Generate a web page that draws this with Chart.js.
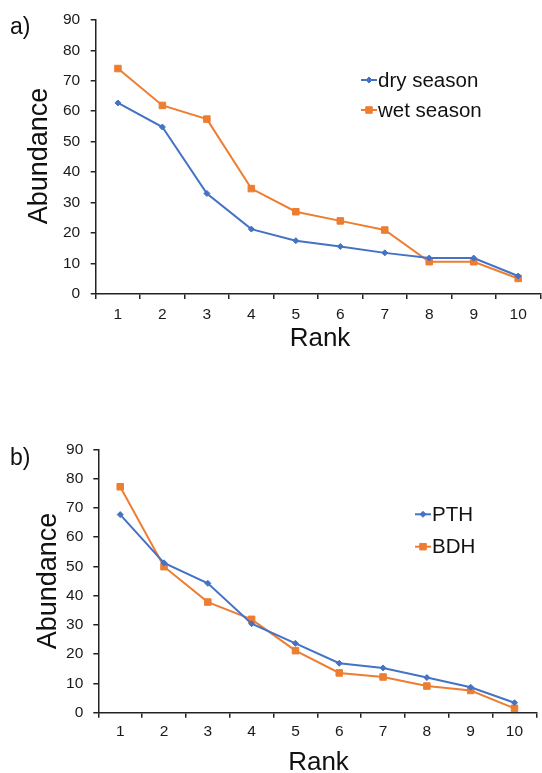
<!DOCTYPE html>
<html>
<head>
<meta charset="utf-8">
<script src="https://cdn.jsdelivr.net/npm/chart.js@4.4.1/dist/chart.umd.min.js"></script>
<style>
  html, body { margin:0; padding:0; background:#fff; }
  body { width:542px; height:773px; overflow:hidden; position:relative; font-family:"Liberation Sans", Arial, sans-serif; }
  .wrap { position:absolute; left:0; overflow:hidden; }
  .lbl { position:absolute; color:#111; line-height:1; white-space:nowrap; }
  .ctr { transform:translate(-50%,-50%); }
  .rot { transform:translate(-50%,-50%) rotate(-90deg); }
</style>
</head>
<body>
<div class="wrap" style="top:0;width:542px;height:360px;"><canvas id="ca" width="546" height="360"></canvas></div>
<div class="wrap" style="top:380px;width:542px;height:393px;"><canvas id="cb" width="542" height="393"></canvas></div>

<div class="lbl" style="left:10px;top:15px;font-size:23px;">a)</div>
<div class="lbl rot" style="left:38px;top:156px;font-size:27px;">Abundance</div>
<div class="lbl ctr" style="left:320px;top:337px;font-size:26px;">Rank</div>

<div class="lbl" style="left:10px;top:446px;font-size:23px;">b)</div>
<div class="lbl rot" style="left:46.5px;top:581px;font-size:27px;">Abundance</div>
<div class="lbl ctr" style="left:318.5px;top:761px;font-size:26px;">Rank</div>

<script>
// ---- data ----
const ranks = ['1','2','3','4','5','6','7','8','9','10'];
const drySeason = [62.7, 54.8, 33.0, 21.3, 17.5, 15.6, 13.5, 11.8, 11.8, 5.9];
const wetSeason = [74.0, 61.9, 57.4, 34.6, 27.0, 24.0, 21.0, 10.6, 10.6, 5.1];
const pth = [67.7, 51.2, 44.2, 30.4, 23.7, 16.9, 15.3, 12.0, 8.7, 3.4];
const bdh = [77.2, 49.9, 37.8, 31.9, 21.2, 13.6, 12.2, 9.1, 7.6, 1.5];
const yMin = 0, yMax = 90, yStep = 10;

const BLUE = '#4472C4', ORANGE = '#ED7D31';
const FONT = '"Liberation Sans", Arial, sans-serif';

// legend drawn inside the plot area
const insideLegend = {
  id: 'insideLegend',
  afterDatasetsDraw(chart, args, opts) {
    const ctx = chart.ctx;
    ctx.save();
    chart.data.datasets.forEach((ds, i) => {
      const y = opts.y[i];
      ctx.strokeStyle = ds.borderColor;
      ctx.fillStyle = ds.borderColor;
      ctx.lineWidth = 2;
      ctx.beginPath();
      ctx.moveTo(opts.x0, y);
      ctx.lineTo(opts.x1, y);
      ctx.stroke();
      ctx.lineWidth = 1;
      Chart.helpers.drawPoint(ctx, {
        pointStyle: ds.pointStyle, radius: ds.pointRadius, borderWidth: 1
      }, (opts.x0 + opts.x1) / 2, y);
      ctx.fillStyle = '#111';
      ctx.font = opts.fontSize + 'px ' + FONT;
      ctx.textBaseline = 'middle';
      ctx.textAlign = 'left';
      ctx.fillText(ds.label, opts.x1 + 1, y + 1);
    });
    ctx.restore();
  }
};

function makeChart(id, labels, sets, geo) {
  const datasets = sets.map(s => ({
    label: s.label, data: s.data, borderColor: s.color, backgroundColor: s.color,
    pointBackgroundColor: s.color, pointBorderColor: s.color,
    borderWidth: 2, pointStyle: s.style, pointRadius: s.radius, pointHoverRadius: s.radius,
    pointBorderWidth: 1, tension: 0, fill: false
  }));
  const canvas = document.getElementById(id);
  const H = canvas.height;
  return new Chart(canvas, {
    type: 'line',
    data: { labels: labels, datasets: datasets },
    plugins: [insideLegend],
    options: {
      responsive: false,
      animation: false,
      events: [],
      layout: { padding: { left: 0, top: geo.top, right: geo.right, bottom: 0 } },
      plugins: {
        legend: { display: false },
        tooltip: { enabled: false },
        insideLegend: geo.legend
      },
      scales: {
        x: {
          type: 'category',
          offset: true,
          afterFit(scale) { scale.height = H - geo.bottom; },
          grid: { offset: true, drawOnChartArea: false, drawTicks: true, tickLength: 5, color: '#222', lineWidth: 1.5 },
          border: { display: true, color: '#222', width: 1.5 },
          ticks: { color: '#1a1a1a', font: { family: FONT, size: 15.5 }, padding: geo.xPad, maxRotation: 0, autoSkip: false }
        },
        y: {
          min: yMin, max: yMax,
          afterFit(scale) { scale.width = geo.left; },
          grid: { drawOnChartArea: false, drawTicks: true, tickLength: 5, color: '#222', lineWidth: 1.5 },
          border: { display: true, color: '#222', width: 1.5 },
          ticks: { stepSize: yStep, color: '#1a1a1a', font: { family: FONT, size: 15.5 }, padding: geo.yPad }
        }
      }
    }
  });
}

makeChart('ca', ranks, [
  { label: 'dry season', data: drySeason, color: BLUE, style: 'rectRot', radius: 3 },
  { label: 'wet season', data: wetSeason, color: ORANGE, style: 'rect', radius: 4.6 }
], { left: 95.7, top: 16.7, right: 1.8, bottom: 294, xPad: 6, yPad: 10.5,
     legend: { x0: 361, x1: 377, y: [80, 110], fontSize: 20.5 } });

makeChart('cb', ranks, [
  { label: 'PTH', data: pth, color: BLUE, style: 'rectRot', radius: 3 },
  { label: 'BDH', data: bdh, color: ORANGE, style: 'rect', radius: 4.6 }
], { left: 98.3, top: 69.3, right: 3.3, bottom: 332.7, xPad: 5, yPad: 10,
     legend: { x0: 415, x1: 431, y: [134.3, 166.7], fontSize: 20.5 } });
</script>
</body>
</html>
